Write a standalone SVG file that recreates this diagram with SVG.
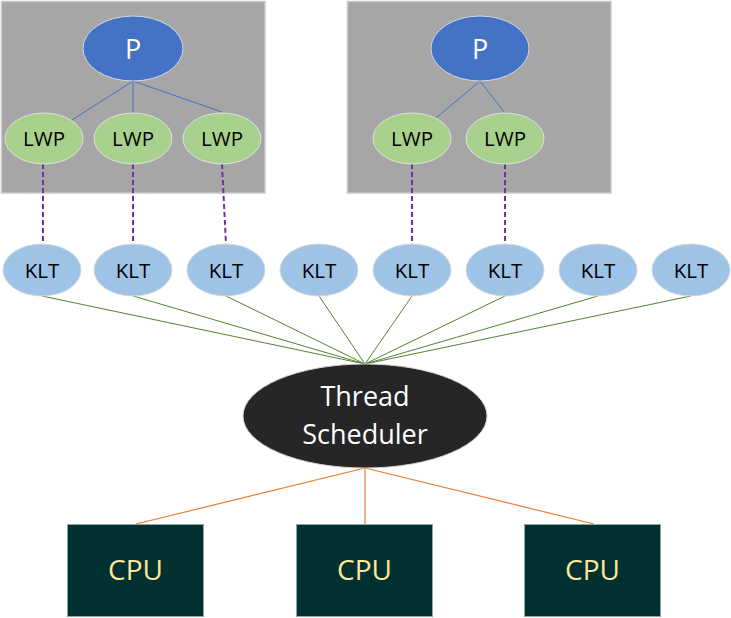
<svg xmlns="http://www.w3.org/2000/svg" width="731" height="618" viewBox="0 0 731 618">
<style>
.box{fill:#A6A6A6;stroke:#C8C8C8;stroke-width:1.5}
.p{fill:#4472C4;stroke:#D0D8E8;stroke-width:1}
.lwp{fill:#A9D18E;stroke:#E0E0E0;stroke-width:1}
.klt{fill:#9DC3E6;stroke:#D8D8D8;stroke-width:1}
.sched{fill:#262626;stroke:#D0D0D0;stroke-width:1}
.cpu{fill:#00302F;stroke:#8AA8A8;stroke-width:1}
text{font-family:"Open Sans","Liberation Sans",sans-serif;text-anchor:middle}
.t19{font-size:20.5px;fill:#000}
.tp{font-size:27px;fill:#fff}
.ts{font-size:27px;fill:#fff}
.tc{font-size:28px;fill:#FFE699}
.blue{stroke:#4472C4;stroke-width:1;fill:none}
.purple{stroke:#7030A0;stroke-width:2;stroke-dasharray:5,3;fill:none}
.green{stroke:#548235;stroke-width:1;fill:none}
.orange{stroke:#ED7D31;stroke-width:1.2;fill:none}
</style>
<rect width="731" height="618" fill="#fff"/>
<g id="process-box-1"><rect class="box" x="1.5" y="1.5" width="263.5" height="191.5"/></g>
<g id="process-box-2"><rect class="box" x="347.5" y="1.5" width="263.5" height="191.5"/></g>
<g id="connectors">
<line class="blue" x1="133" y1="81" x2="72" y2="120"/>
<line class="blue" x1="133" y1="81" x2="133" y2="113"/>
<line class="blue" x1="133" y1="81" x2="222" y2="112"/>
<line class="blue" x1="480" y1="81" x2="436" y2="118"/>
<line class="blue" x1="480" y1="81" x2="505" y2="113"/>
<line class="purple" x1="43" y1="164" x2="43" y2="244"/>
<line class="purple" x1="133" y1="164" x2="133" y2="244"/>
<line class="purple" x1="222" y1="164" x2="226" y2="244"/>
<line class="purple" x1="412" y1="164" x2="412" y2="244"/>
<line class="purple" x1="505" y1="164" x2="505" y2="244"/>
<line class="green" x1="42" y1="296" x2="365" y2="364"/>
<line class="green" x1="133" y1="296" x2="365" y2="364"/>
<line class="green" x1="226" y1="296" x2="365" y2="364"/>
<line class="green" x1="319" y1="296" x2="365" y2="364"/>
<line class="green" x1="412" y1="296" x2="365" y2="364"/>
<line class="green" x1="505" y1="296" x2="365" y2="364"/>
<line class="green" x1="598" y1="296" x2="365" y2="364"/>
<line class="green" x1="691" y1="296" x2="365" y2="364"/>
<line class="orange" x1="365" y1="468" x2="136" y2="524"/>
<line class="orange" x1="365" y1="468" x2="365" y2="524"/>
<line class="orange" x1="365" y1="468" x2="594" y2="524"/>
</g>
<g id="p1"><ellipse class="p" cx="133" cy="48.5" rx="50" ry="32.5"/><text class="tp" x="133" y="58.5">P</text></g>
<g id="p2"><ellipse class="p" cx="480" cy="48.5" rx="49" ry="32.5"/><text class="tp" x="480" y="58.5">P</text></g>
<g id="lwp1"><ellipse class="lwp" cx="44" cy="138.5" rx="39" ry="25.5"/><text class="t19" x="44" y="146">LWP</text></g>
<g id="lwp2"><ellipse class="lwp" cx="133" cy="138.5" rx="39" ry="25.5"/><text class="t19" x="133" y="146">LWP</text></g>
<g id="lwp3"><ellipse class="lwp" cx="222" cy="138.5" rx="39" ry="25.5"/><text class="t19" x="222" y="146">LWP</text></g>
<g id="lwp4"><ellipse class="lwp" cx="412" cy="138.5" rx="39" ry="25.5"/><text class="t19" x="412" y="146">LWP</text></g>
<g id="lwp5"><ellipse class="lwp" cx="505" cy="138.5" rx="39" ry="25.5"/><text class="t19" x="505" y="146">LWP</text></g>
<g id="klt1"><ellipse class="klt" cx="42" cy="270" rx="39" ry="26"/><text class="t19" x="42" y="278">KLT</text></g>
<g id="klt2"><ellipse class="klt" cx="133" cy="270" rx="39" ry="26"/><text class="t19" x="133" y="278">KLT</text></g>
<g id="klt3"><ellipse class="klt" cx="226" cy="270" rx="39" ry="26"/><text class="t19" x="226" y="278">KLT</text></g>
<g id="klt4"><ellipse class="klt" cx="319" cy="270" rx="39" ry="26"/><text class="t19" x="319" y="278">KLT</text></g>
<g id="klt5"><ellipse class="klt" cx="412" cy="270" rx="39" ry="26"/><text class="t19" x="412" y="278">KLT</text></g>
<g id="klt6"><ellipse class="klt" cx="505" cy="270" rx="39" ry="26"/><text class="t19" x="505" y="278">KLT</text></g>
<g id="klt7"><ellipse class="klt" cx="598" cy="270" rx="39" ry="26"/><text class="t19" x="598" y="278">KLT</text></g>
<g id="klt8"><ellipse class="klt" cx="691" cy="270" rx="39" ry="26"/><text class="t19" x="691" y="278">KLT</text></g>
<g id="scheduler"><ellipse class="sched" cx="365" cy="416" rx="122" ry="52"/><text class="ts" x="365" y="406">Thread</text><text class="ts" x="365" y="444">Scheduler</text></g>
<g id="cpu1"><rect class="cpu" x="67.5" y="524.5" width="136" height="92"/><text class="tc" x="135.5" y="580">CPU</text></g>
<g id="cpu2"><rect class="cpu" x="296.5" y="524.5" width="136" height="92"/><text class="tc" x="364.5" y="580">CPU</text></g>
<g id="cpu3"><rect class="cpu" x="524.5" y="524.5" width="136" height="92"/><text class="tc" x="592.5" y="580">CPU</text></g>
</svg>
